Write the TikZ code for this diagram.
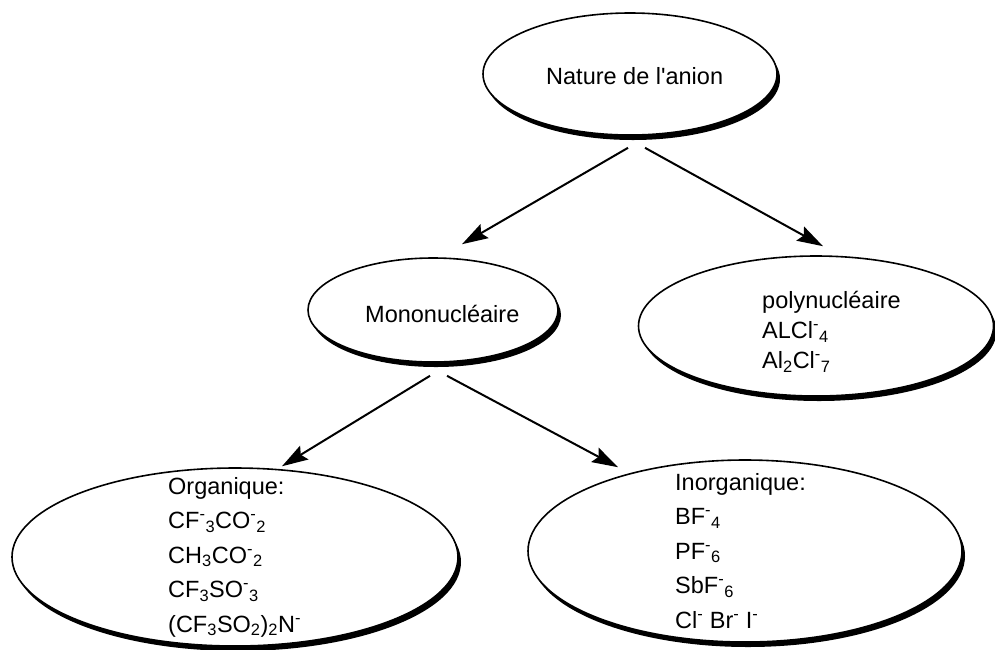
\documentclass[tikz,border=0pt]{standalone}
\usepackage{fontspec}
\setmainfont{Liberation Sans}
\usetikzlibrary{shapes.geometric,arrows.meta,shadows}

\newcommand{\sups}[1]{\textsuperscript{#1}}
\newcommand{\subs}[1]{\textsubscript{#1}}

\tikzset{
  every node/.style={font=\fontsize{23.5}{34.5}\selectfont, inner sep=0pt},
  bulle/.style={ellipse, draw, line width=1.6pt, fill=white,
    drop shadow={shadow xshift=3pt, shadow yshift=-5pt, fill=black, opacity=1}},
  texte/.style={anchor=north west, align=left},
  fleche/.style={-{Stealth[length=26pt, width=16pt, inset=4pt]}, line width=2pt},
}

\begin{document}
\begin{tikzpicture}[x=1pt, y=-1pt]
    \useasboundingbox (0,0) rectangle (995,649);
    % les bulles
    \node[bulle, minimum width=294, minimum height=122] (anion) at (630,74) {};
    \node[bulle, minimum width=250, minimum height=104] (mono)  at (433,310) {};
    \node[bulle, minimum width=355, minimum height=140] (poly)  at (816,326) {};
    \node[bulle, minimum width=446, minimum height=178] (org)   at (235,557) {};
    \node[bulle, minimum width=434, minimum height=182] (inorg) at (745,551) {};
    % les textes
    \node[anchor=west] (anionTxt) at (546,76) {Nature de l\textquotesingle anion};
    \node[anchor=west] (monoTxt)  at (365,314) {Mononucléaire};
    \node[texte, font=\fontsize{23.5}{30}\selectfont] (polyTxt) at (762,291)
      {polynucléaire\\ ALCl\sups{-}\subs{4}\\ Al\subs{2}Cl\sups{-}\subs{7}};
    \node[texte] (orgTxt) at (168,477)
      {Organique:\\ CF\sups{-}\subs{3}CO\sups{-}\subs{2}\\ CH\subs{3}CO\sups{-}\subs{2}\\
       CF\subs{3}SO\sups{-}\subs{3}\\ (CF\subs{3}SO\subs{2})\subs{2}N\sups{-}};
    \node[texte] (inorgTxt) at (675,473)
      {Inorganique:\\ BF\sups{-}\subs{4}\\ PF\sups{-}\subs{6}\\ SbF\sups{-}\subs{6}\\
       Cl\sups{-} Br\sups{-} I\sups{-}};
    % les fleches
    \draw[fleche] ([shift={(-2,12)}]anion.south) -- ([shift={(29,-13)}]mono.north);
    \draw[fleche] ([shift={(15,12)}]anion.south) -- ([shift={(7,-9)}]poly.north);
    \draw[fleche] ([shift={(-3,13)}]mono.south) -- ([shift={(47,-1)}]org.north);
    \draw[fleche] ([shift={(14,13)}]mono.south) -- ([shift={(-127,8)}]inorg.north);
\end{tikzpicture}
\end{document}
